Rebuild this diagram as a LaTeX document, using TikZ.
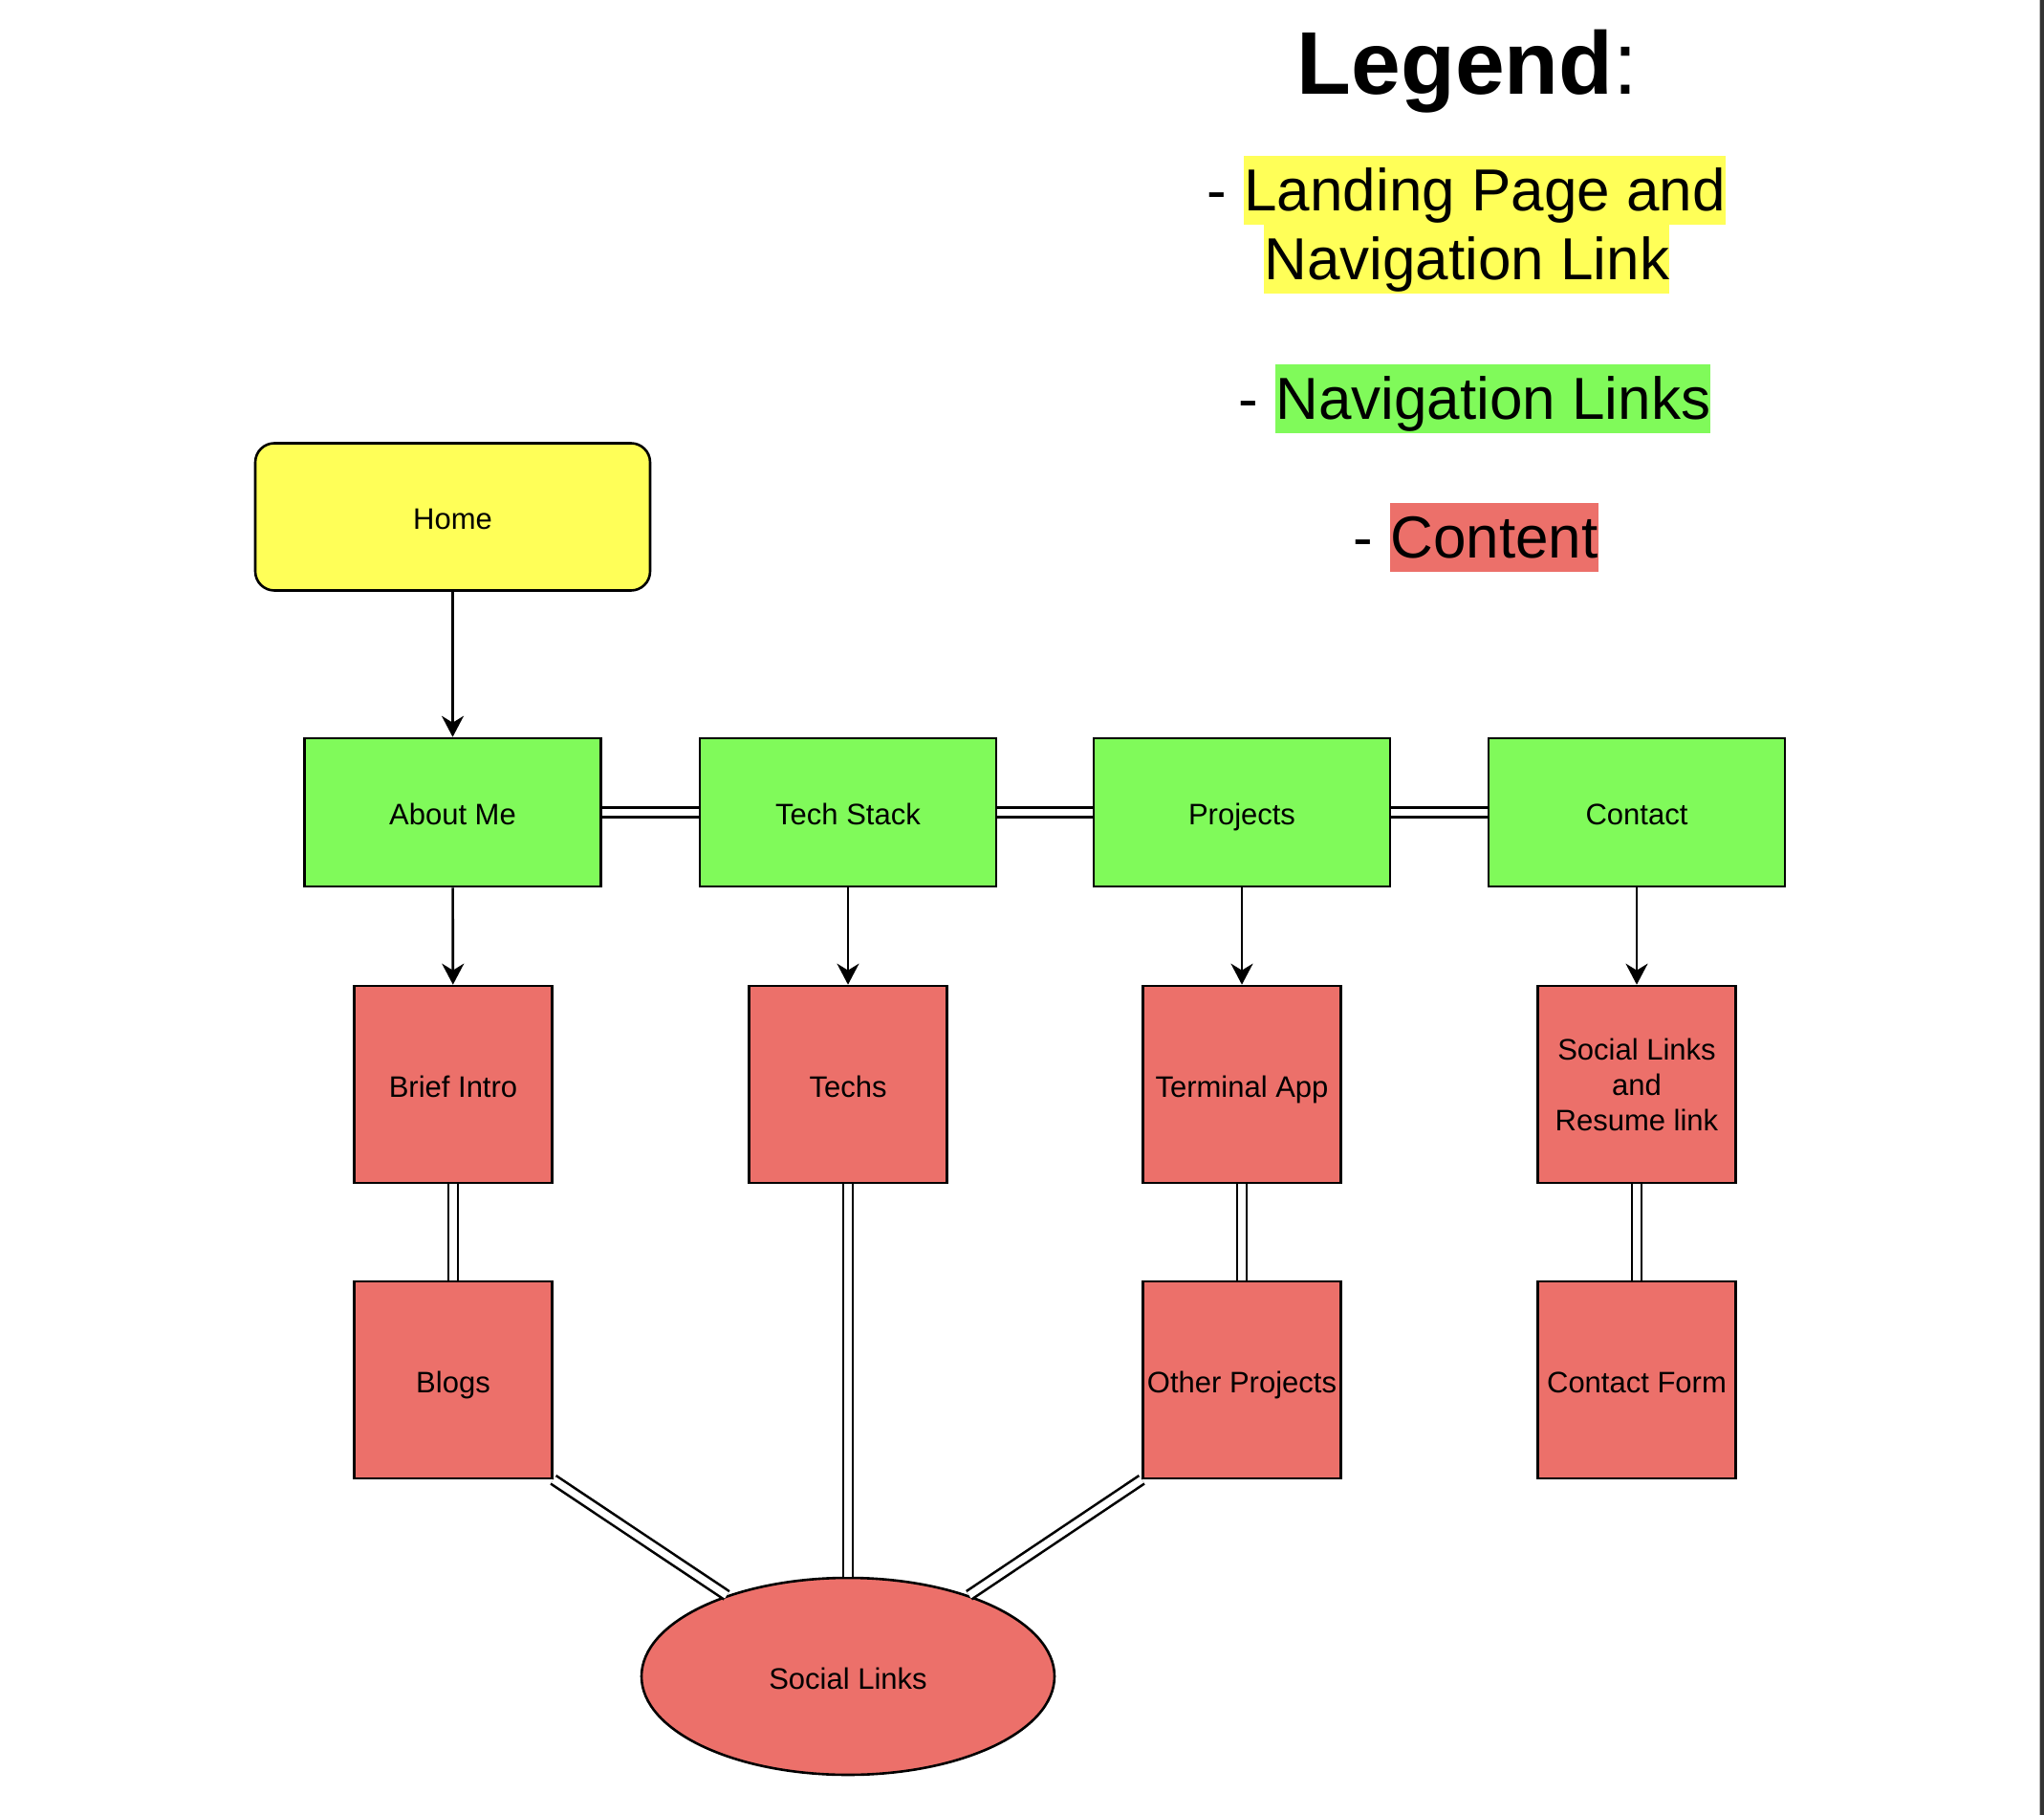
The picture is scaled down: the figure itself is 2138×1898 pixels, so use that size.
\documentclass[tikz,border=0pt]{standalone}
\usepackage{fontspec}
\setmainfont{Liberation Sans}
\usetikzlibrary{shapes.geometric,arrows.meta}
\definecolor{hlyellow}{RGB}{255,255,88}
\definecolor{hlgreen}{RGB}{128,250,90}
\definecolor{hlred}{RGB}{236,112,106}
\definecolor{edgebar}{RGB}{51,51,51}
\tikzset{
 nodefont/.style={font=\fontsize{15.5pt}{18.5pt}\selectfont},
 basebox/.style={draw=black, line width=1.3pt, nodefont, inner sep=0pt, align=center},
 oneline/.style={text height=14pt, text depth=1pt},
 homebox/.style={basebox, oneline, fill=hlyellow, rounded corners=10pt, minimum width=206.5pt, minimum height=77pt},
 navbox/.style={basebox, oneline, fill=hlgreen, minimum width=155pt, minimum height=77.5pt},
 contentbox/.style={basebox, fill=hlred, minimum width=103.5pt, minimum height=103pt},
 contentoval/.style={basebox, oneline, fill=hlred, ellipse, minimum width=216pt, minimum height=103pt},
 arr/.style={line width=1.3pt, -{Stealth[length=11pt,width=11.5pt,inset=3.5pt]}},
 linkline/.style={line width=1.3pt, double=white, double distance=3.7pt},
 legfont/.style={font=\fontsize{31pt}{36pt}\selectfont},
 hlbox/.style={legfont, inner xsep=0pt, inner ysep=0pt, text height=29pt, text depth=7pt, anchor=base west},
 legdash/.style={legfont, inner sep=0pt, anchor=base east},
}
\begin{document}
\begin{tikzpicture}[x=0.5pt,y=-0.5pt]
\useasboundingbox (0,0) rectangle (2138,1898);
\fill[white] (0,0) rectangle (2138,1898);
\fill[gray!55] (2133,0) rectangle (2134,1898);
\fill[edgebar] (2134,0) rectangle (2138,1898);

% Legend
\node[font=\fontsize{46.5pt}{50pt}\selectfont, inner sep=0pt, anchor=base] (legtitle) at (1535,99) {\textbf{Legend}:};
\node[legdash] (d1) at (1284,221) {-};
\node[hlbox, fill=hlyellow] (l1) at (1301,221) {Landing Page and};
\node[hlbox, fill=hlyellow] (l2) at (1322,293) {Navigation Link};
\node[legdash] (d3) at (1317,439) {-};
\node[hlbox, fill=hlgreen] (l3) at (1334,439) {Navigation Links};
\node[legdash] (d4) at (1437,584) {-};
\node[hlbox, fill=hlred] (l4) at (1454,584) {Content};

% Nodes
\node[homebox] (home) at (473.5,540.5) {Home};
\node[navbox] (about) at (473.5,849.5) {About Me};
\node[navbox] (tech) at (887,849.5) {Tech Stack};
\node[navbox] (proj) at (1299,849.5) {Projects};
\node[navbox] (contact) at (1712,849.5) {Contact};

\node[contentbox, oneline] (intro) at (474,1134) {Brief Intro};
\node[contentbox, oneline] (techs) at (887,1134) {Techs};
\node[contentbox, oneline] (term) at (1299,1134) {Terminal App};
\node[contentbox] (resume) at (1712,1134) {Social Links\\and\\Resume link};

\node[contentbox, oneline] (blogs) at (474,1443) {Blogs};
\node[contentbox, oneline] (other) at (1299,1443) {Other Projects};
\node[contentbox, oneline] (form) at (1712,1443) {Contact Form};

\node[contentoval] (social) at (887,1753) {Social Links};

% Connectors
\draw[arr] (home) -- (about);
\draw[arr] (about) -- (intro);
\draw[arr] (tech) -- (techs);
\draw[arr] (proj) -- (term);
\draw[arr] (contact) -- (resume);

\draw[linkline] (about) -- (tech);
\draw[linkline] (tech) -- (proj);
\draw[linkline] (proj) -- (contact);

\draw[linkline] (intro) -- (blogs);
\draw[linkline] (term) -- (other);
\draw[linkline] (resume) -- (form);
\draw[linkline] (techs) -- (social);
\draw[linkline] (blogs.south east) -- (social);
\draw[linkline] (other.south west) -- (social);
\end{tikzpicture}
\end{document}
